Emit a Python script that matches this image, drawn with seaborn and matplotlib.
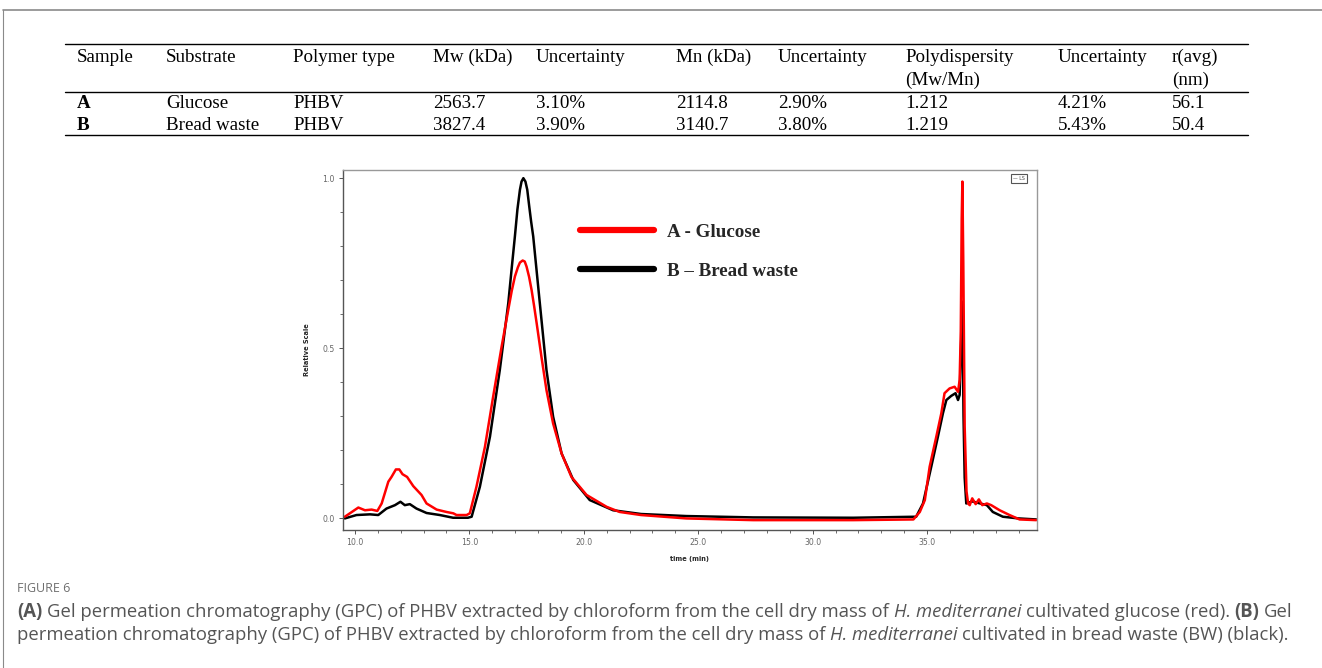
import numpy as np
import pandas as pd
import matplotlib
matplotlib.use("Agg")
import matplotlib.pyplot as plt
from matplotlib.lines import Line2D
import seaborn as sns

# GPC traces (time in min, relative scale)
time_a = [9.56, 9.78, 10.15, 10.44, 10.73, 10.98, 11.17, 11.46, 11.6, 11.79, 11.94, 12.08, 12.28,
          12.55, 12.91, 13.13, 13.57, 14.0, 14.3, 14.44, 14.88, 15.02, 15.31, 15.68, 16.04, 16.41,
          16.7, 16.85, 16.99, 17.12, 17.21, 17.33, 17.42, 17.5, 17.61, 17.72, 17.83, 17.94, 18.15,
          18.37, 18.66, 19.03, 19.46, 20.12, 21.0, 21.57, 22.5, 24.48, 27.4, 31.77, 34.4, 34.68,
          34.9, 35.11, 35.4, 35.62, 35.76, 35.98, 36.2, 36.35, 36.42, 36.47, 36.51, 36.54, 36.58,
          36.64, 36.72, 36.79, 36.86, 36.97, 37.12, 37.26, 37.41, 37.61, 37.8, 38.17, 38.6, 39.04,
          39.77]
rel_a = [0.005, 0.015, 0.032, 0.024, 0.026, 0.022, 0.044, 0.108, 0.122, 0.144, 0.144, 0.130, 0.122,
         0.095, 0.069, 0.044, 0.026, 0.019, 0.015, 0.010, 0.010, 0.015, 0.093, 0.21, 0.358, 0.505,
         0.613, 0.668, 0.711, 0.738, 0.752, 0.758, 0.755, 0.74, 0.71, 0.671, 0.624, 0.574, 0.475,
         0.377, 0.279, 0.191, 0.122, 0.069, 0.034, 0.019, 0.010, 0.0, -0.005, -0.005, -0.003, 0.019,
         0.054, 0.152, 0.24, 0.309, 0.368, 0.382, 0.387, 0.372, 0.407, 0.55, 0.88, 0.99, 0.75,
         0.27, 0.08, 0.044, 0.039, 0.059, 0.042, 0.056, 0.039, 0.044, 0.039, 0.024, 0.010, -0.003,
         -0.005]

time_b = [9.56, 10.07, 10.66, 11.02, 11.38, 11.75, 11.99, 12.18, 12.4, 12.69, 13.13, 13.71, 14.29,
          14.94, 15.1, 15.46, 15.9, 16.33, 16.7, 16.85, 16.99, 17.1, 17.21, 17.28, 17.36, 17.45,
          17.53, 17.62, 17.7, 17.79, 18.08, 18.37, 18.66, 19.03, 19.54, 20.26, 21.28, 22.5, 24.48,
          27.4, 31.77, 34.52, 34.82, 35.18, 35.47, 35.69, 35.84, 36.05, 36.24, 36.35, 36.42, 36.48,
          36.54, 36.59, 36.64, 36.71, 36.97, 37.26, 37.61, 37.87, 38.31, 39.0, 39.77]
rel_b = [0.0, 0.01, 0.012, 0.01, 0.029, 0.039, 0.049, 0.039, 0.042, 0.029, 0.016, 0.01, 0.002,
         0.002, 0.005, 0.093, 0.24, 0.436, 0.632, 0.735, 0.829, 0.908, 0.966, 0.99, 1.0, 0.99,
         0.966, 0.915, 0.872, 0.829, 0.632, 0.436, 0.299, 0.191, 0.113, 0.054, 0.024, 0.013, 0.007,
         0.003, 0.002, 0.005, 0.044, 0.152, 0.24, 0.309, 0.348, 0.36, 0.368, 0.348, 0.363, 0.5,
         0.637, 0.3, 0.12, 0.044, 0.05, 0.045, 0.039, 0.019, 0.005, 0.0, -0.003]

label_a = "A - Glucose"
label_b = "B \u2013 Bread waste"

# table
col_names = ["Sample", "Substrate", "Polymer type", "Mw (kDa)", "Uncertainty", "Mn (kDa)",
             "Uncertainty", "Polydispersity", "Uncertainty", "r(avg)"]
col_names2 = ["", "", "", "", "", "", "", "(Mw/Mn)", "", "(nm)"]
row_a = ["A", "Glucose", "PHBV", "2563.7", "3.10%", "2114.8", "2.90%", "1.212", "4.21%", "56.1"]
row_b = ["B", "Bread waste", "PHBV", "3827.4", "3.90%", "3140.7", "3.80%", "1.219", "5.43%", "50.4"]

W, H = 1322, 668
sns.set_style("ticks")
plt.rcParams['font.family'] = ['DejaVu Sans']
fig = plt.figure(figsize=(W / 100, H / 100), dpi=100)

def fx(px):
    return px / W

def fy(py):
    return 1 - py / H

# page frame lines
fig.add_artist(Line2D([fx(3), 1], [fy(10), fy(10)], color="#8a8a8a", lw=1.2))
fig.add_artist(Line2D([fx(3), fx(3)], [fy(10), 0], color="#8a8a8a", lw=0.8))

# ---- table ----
col_x = [77, 166, 293, 433, 536, 676, 778, 905, 1058, 1172]
tfont = dict(family="Liberation Serif", fontsize=13.7, color="black", va="center", ha="left")
for line_y in [44, 92, 135]:
    fig.add_artist(Line2D([fx(65), fx(1248)], [fy(line_y), fy(line_y)], color="black", lw=1.0))
for i, x in enumerate(col_x):
    fig.text(fx(x), fy(57), col_names[i], **tfont)
    if col_names2[i]:
        fig.text(fx(x), fy(80), col_names2[i], **tfont)
    fig.text(fx(x), fy(103), row_a[i], fontweight="bold" if i == 0 else "normal", **tfont)
    fig.text(fx(x), fy(125), row_b[i], fontweight="bold" if i == 0 else "normal", **tfont)

# ---- chromatogram ----
ax = fig.add_axes([fx(343), fy(530), (1037 - 343) / W, (530 - 170) / H])
df = pd.concat([
    pd.DataFrame({"time": time_b, "rel": rel_b, "sample": label_b}),
    pd.DataFrame({"time": time_a, "rel": rel_a, "sample": label_a}),
])
sns.lineplot(data=df, x="time", y="rel", hue="sample", hue_order=[label_b, label_a],
             palette={label_a: "#ff0000", label_b: "#000000"}, estimator=None, sort=False,
             linewidth=1.8, ax=ax)

ax.set_xlim(9.48, 39.8)
ax.set_ylim(-0.034, 1.024)
ax.set_xticks([10, 15, 20, 25, 30, 35])
ax.set_xticklabels(["10.0", "15.0", "20.0", "25.0", "30.0", "35.0"])
ax.set_xticks(np.arange(10, 40, 1.0), minor=True)
ax.set_yticks([0, 0.5, 1.0])
ax.set_yticklabels(["0.0", "0.5", "1.0"])
ax.set_yticks(np.arange(0, 1.01, 0.1), minor=True)
ax.tick_params(axis="both", which="major", labelsize=5.6, labelcolor="#666666", color="#555555",
               length=3, width=0.7, direction="out", pad=3)
ax.tick_params(axis="both", which="minor", color="#555555", length=2, width=0.6, direction="out")
ax.set_xlabel("time (min)", fontsize=4.8, fontweight="bold", labelpad=6)
ax.set_ylabel("Relative Scale", fontsize=4.8, fontweight="bold", labelpad=9)
for side in ["left", "bottom"]:
    ax.spines[side].set_color("#555555")
    ax.spines[side].set_linewidth(1.0)
for side in ["top", "right"]:
    ax.spines[side].set_visible(True)
    ax.spines[side].set_color("#999999")
    ax.spines[side].set_linewidth(1.0)

handles, labels = ax.get_legend_handles_labels()
order = [labels.index(label_a), labels.index(label_b)]
leg = ax.legend([handles[k] for k in order], [labels[k] for k in order], frameon=False,
                loc="upper left", bbox_to_anchor=((572 - 343) / 694, 1 - (216 - 170) / 360),
                handlelength=3.9, handletextpad=0.7, labelspacing=1.15, borderaxespad=0,
                prop={"family": "Liberation Serif", "weight": "bold", "size": 13.7})
for h in leg.legend_handles:
    h.set_linewidth(4.5)

ax.text(0.974, 0.976, "\u2014 LS", transform=ax.transAxes, fontsize=3.4, color="#444444",
        ha="center", va="center",
        bbox=dict(boxstyle="square,pad=0.35", fc="white", ec="#555555", lw=0.8))

# ---- caption ----
fig.text(fx(17), fy(588), "FIGURE 6", family="Open Sans", fontsize=9, color="#6f6f6f",
         va="center", ha="left")

cap_color = "#555555"
line1 = [("(A)", "bold", "normal", True), ("Gel permeation chromatography (GPC) of PHBV extracted by chloroform from the cell dry mass of", "normal", "normal", True),
         ("H. mediterranei", "normal", "italic", True), ("cultivated glucose (red).", "normal", "normal", True),
         ("(B)", "bold", "normal", True), ("Gel", "normal", "normal", False)]
line2 = [("permeation chromatography (GPC) of PHBV extracted by chloroform from the cell dry mass of", "normal", "normal", True),
         ("H. mediterranei", "normal", "italic", True), ("cultivated in bread waste (BW) (black).", "normal", "normal", False)]

renderer = fig.canvas.get_renderer()

def width_px(s, size, weight="normal", style="normal"):
    t = fig.text(0, 0, s, family="Open Sans", fontsize=size, fontweight=weight, fontstyle=style)
    w = t.get_window_extent(renderer).width
    t.remove()
    return w

def line_width(runs, size):
    sp = width_px("x x", size) - width_px("xx", size)
    return sum(width_px(r[0], size, r[1], r[2]) for r in runs) + sp * sum(1 for r in runs if r[3])

cap_size = 10.5
cap_size = cap_size * (1300 - 17) / line_width(line1, cap_size)

def draw_line(runs, py, size):
    sp = width_px("x x", size) - width_px("xx", size)
    x = 17
    for s, wgt, sty, gap in runs:
        fig.text(fx(x), fy(py), s, family="Open Sans", fontsize=size, fontweight=wgt,
                 fontstyle=sty, color=cap_color, va="center", ha="left")
        x += width_px(s, size, wgt, sty) + (sp if gap else 0)

draw_line(line1, 612, cap_size)
draw_line(line2, 635, cap_size)

fig.savefig("out.png", dpi=100)
